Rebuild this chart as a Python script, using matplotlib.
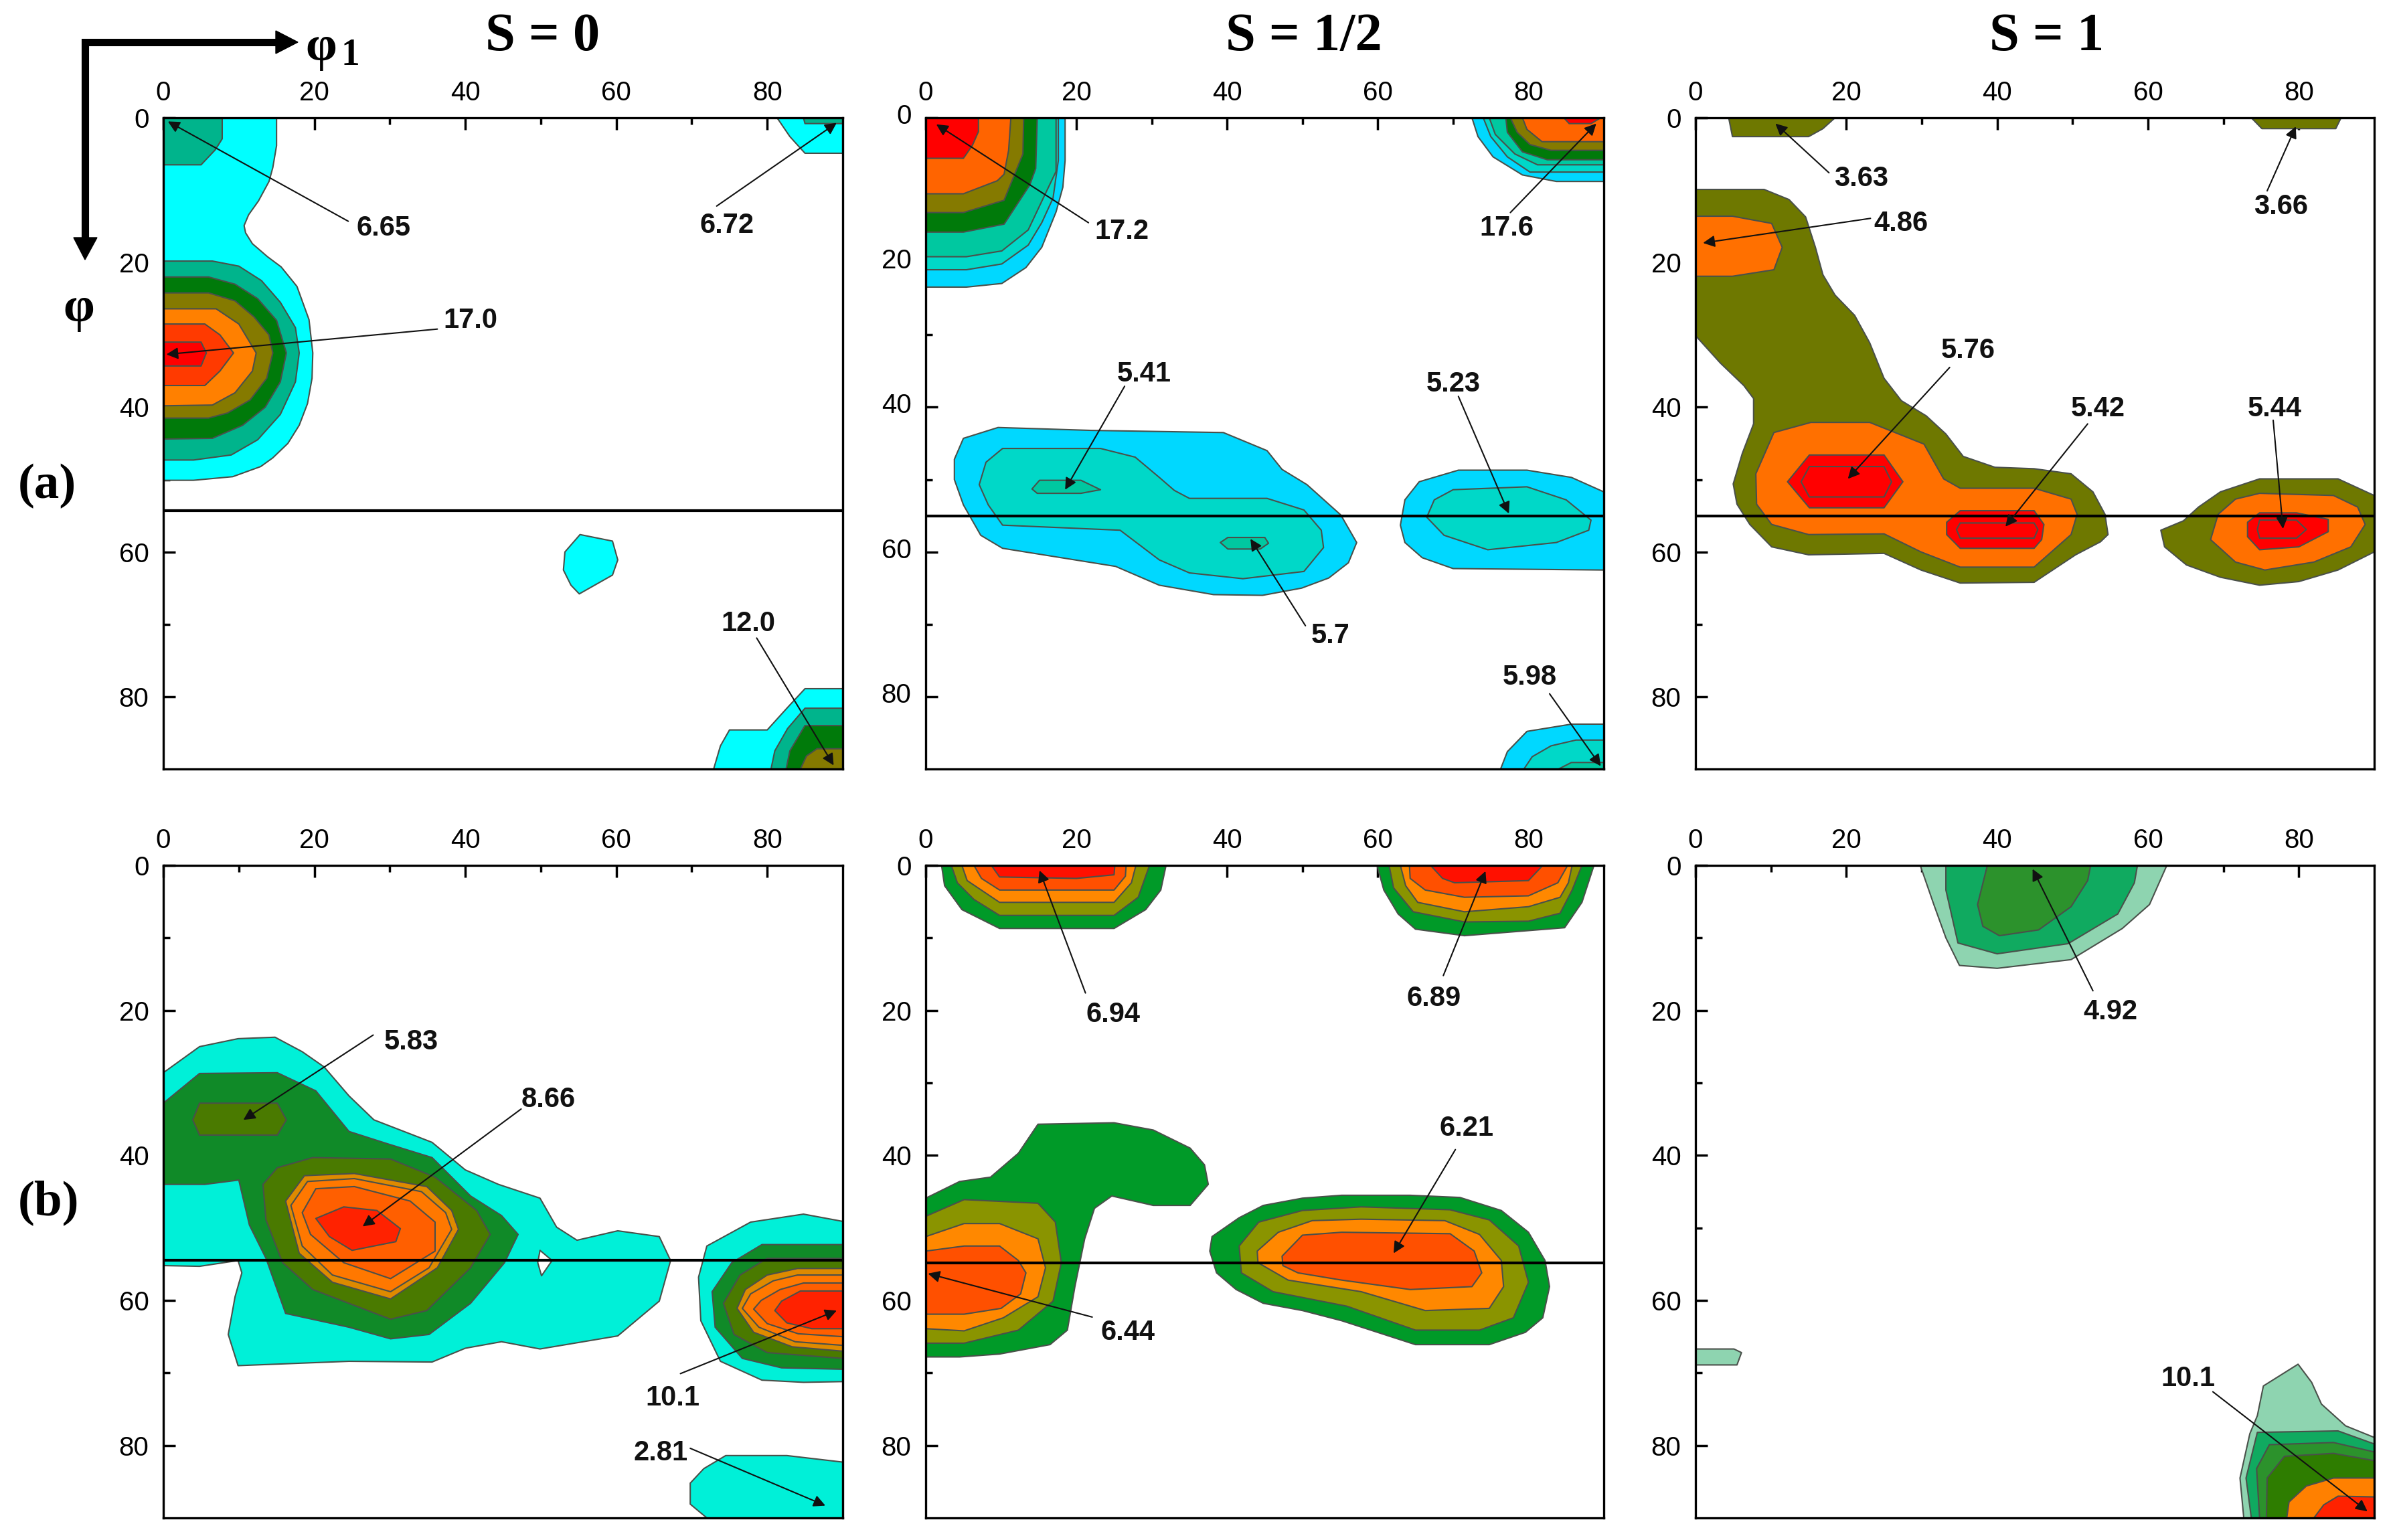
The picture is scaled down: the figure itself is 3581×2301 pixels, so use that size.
import matplotlib
matplotlib.use("Agg")
import matplotlib.pyplot as plt
from matplotlib.transforms import ScaledTranslation

W, H = 3581, 2301

# shared colours
CYAN = "#00ffff"; TEAL = "#00b48c"; DKGREEN = "#007a0a"; OLIVE = "#857a00"
ORANGE = "#ff8000"; REDOR = "#ff3a00"; RED = "#ff0000"
SKY = "#00d8ff"; TURQ = "#00d8c8"; TEAL2 = "#00c8a0"; OLIVE3 = "#6e7800"; ORANGE3 = "#ff7000"
B_TURQ = "#00f0d8"; B_GREEN = "#108a28"; B_OLIVE = "#4a7a00"; B_AMBER = "#de8a00"; B_ORANGE = "#ff7800"
B_RO = "#ff5f00"; B_RED = "#ff2200"
C_GREEN = "#009a28"; C_OLIVE = "#8a9400"; C_ORANGE = "#ff8800"; C_RO = "#ff5000"; C_RED = "#ff1000"
D_PALE = "#8ed4b0"; D_GREEN = "#10aa60"; D_MID = "#2c922c"; D_DARK = "#2e7d00"

# ---- panel (a) S = 0, contour outlines read as (phi1, phi) ----
a1_cyan = [(0,0),(15,0),(15,3.85),(14.5,6.9),(14,8.8),(12.6,11.5),(11.3,13.4),(10.7,14.9),(10.9,15.9),(11.8,17.4),(13.8,19.2),(15.6,20.6),(17.7,23.3),(19.3,27.9),(19.8,32.5),(19.7,36),(19.1,39.5),(18,42.5),(16.5,45),(14.5,47),(12.9,48.2),(9.2,49.6),(4,50.1),(0,50.1)]
a1_corner = [(0,0),(7.8,0),(7.8,2.9),(6.9,4.4),(5,6.5),(0,6.5)]
a1_teal = [(0,19.8),(6.5,19.8),(10,20.5),(13,22.5),(15.5,25.5),(17.5,29),(18,32.5),(17.5,36.5),(15.5,41),(12.5,44.5),(9,46.6),(4,47.3),(0,47.3)]
a1_green = [(0,22),(6,22),(9.5,23),(12.5,25),(15,28),(16.3,32.5),(15.5,36.5),(13.5,40),(10.5,42.5),(6.5,44.3),(0,44.4)]
a1_olive = [(0,24.2),(6,24.2),(9.5,25.3),(12,27.5),(14,30),(14.5,32.5),(13.7,36),(11.5,39),(8.5,40.8),(6,41.5),(0,41.5)]
a1_orange = [(0,26.4),(7,26.4),(10,28.5),(12.3,32.5),(11.8,35),(9.5,38),(6.5,39.7),(0,39.8)]
a1_redor = [(0,28.5),(5.5,28.5),(7.5,30),(9.3,32.5),(7.5,35),(5.5,37),(0,37)]
a1_red = [(0,31),(5,31),(5.7,32.5),(5,34.3),(0,34.3)]
a1_tr_cyan = [(81.3,0),(83,2.6),(85,4.9),(90,4.9),(90,0)]
a1_tr_teal = [(84.8,0),(85,0.8),(90,0.8),(90,0)]
a1_blob = [(55.2,57.6),(59.5,58.5),(60.2,61.1),(59.5,63.2),(55.1,65.8),(54,64.6),(53,62.5),(53.2,60)]
a1_br_cyan = [(72.9,90),(73.8,86.8),(75,84.6),(80,84.6),(82.6,81.6),(85,78.9),(90,78.9),(90,90)]
a1_br_teal = [(80.5,90),(81,87.5),(82.7,84.4),(85,81.6),(90,81.6),(90,90)]
a1_br_green = [(82.5,90),(83,87.5),(85,84),(90,84),(90,90)]
a1_br_olive = [(84.4,90),(85.2,88.2),(86.6,87.2),(90,87.2),(90,90)]
a1_notes = [("6.65",29.2,15.3,24.5,14.3,0.6,0.5),("6.72",74.7,14.9,73.3,12.2,89.2,0.7),
            ("17.0",40.7,28,36.3,29.2,0.4,32.7),("12.0",77.5,69.9,78.6,71.9,88.8,89.5)]

# ---- panel (a) S = 1/2 ----
a2_cyan = [(0,0),(18.5,0),(18.5,5.9),(18.2,9.6),(17.3,13),(15.4,17.9),(13.3,20.7),(10.1,22.9),(5.4,23.4),(0,23.4)]
a2_turq = [(0,0),(17.6,0),(17.6,5.9),(16.9,11.1),(15.4,14.5),(13.6,17.6),(10.1,20.2),(5.4,21),(0,21)]
a2_teal = [(0,0),(17.3,0),(17.3,7.4),(15.6,11.1),(13.6,15.5),(10.1,18.4),(5.4,19.2),(0,19.2)]
a2_green = [(0,0),(14.8,0),(14.6,7),(13.8,9.3),(10.4,14.7),(5,15.8),(0,15.8)]
a2_olive = [(0,0),(13,0),(12.9,5),(10.4,11.4),(5,13.1),(0,13.1)]
a2_orange = [(0,0),(11.3,0),(11,4.5),(10.4,7.8),(9.5,8.7),(5,10.5),(0,10.5)]
a2_red = [(0,0),(7,0),(7,1.9),(6.2,3.8),(5,5.6),(0,5.6)]
a2_tr_cyan = [(72.5,0),(73.3,2.6),(75.3,5.4),(79.2,7.9),(83.7,8.8),(90,8.8),(90,0)]
a2_tr_turq = [(74,0),(75,2.6),(77.2,5.4),(80.2,7.5),(90,7.5),(90,0)]
a2_tr_teal = [(74.8,0),(75.6,2.3),(78.2,5),(81.2,6.5),(90,6.5),(90,0)]
a2_tr_green = [(77,0),(77.2,2),(79.2,4.7),(82.5,5.8),(90,5.8),(90,0)]
a2_tr_olive = [(77.6,0),(78.5,2),(80.2,3.7),(83,4.5),(90,4.5),(90,0)]
a2_tr_orange = [(79.2,0),(79.8,1.6),(81.8,3.3),(90,3.3),(90,0)]
a2_tr_red = [(84.7,0),(85.4,0.8),(88.3,0.8),(89.6,0)]
a2_mid_sky = [(5,44.3),(9.6,42.8),(21.9,43.2),(39.5,43.5),(45.3,46),(47.3,48.6),(50.6,50.7),(55.1,54.9),(57.2,58.7),(56.1,61.5),(53.5,63.6),(49.9,65),(44.7,66),(38.2,65.9),(31,64.6),(25.2,62),(10.2,59.5),(7.3,57.7),(5,53.5),(3.8,50),(3.8,47.2)]
a2_mid_turq = [(10.2,45.7),(23.2,45.7),(27.8,46.9),(31,49.7),(33,51.5),(35,52.6),(45.3,52.6),(50.2,54.2),(52.5,57),(52.8,59.4),(50.2,62.7),(42.1,63.7),(35,62.9),(31,61.1),(25.8,57),(10.2,56.3),(8.3,53.5),(7.1,50.7),(8,47.6)]
a2_spot1 = [(15.1,50.1),(20.6,50.1),(23.2,51.4),(20.6,51.9),(14.8,51.9),(14.1,51.3)]
a2_spot2 = [(40.1,58),(45,58),(45.5,58.8),(44.4,59.6),(40.1,59.6),(39.1,58.7)]
a2_right_sky = [(90,51.7),(85.7,49.7),(79.8,48.7),(70.7,48.7),(65.5,50.3),(63.6,52.8),(63,56.3),(63.6,58.7),(65.9,60.8),(70,62.3),(90,62.5)]
a2_right_turq = [(70,51.4),(79.8,51),(85,52.8),(88.3,55.6),(88,57),(83.7,58.7),(74.6,59.7),(68.8,57.7),(66.5,55.2),(67.5,52.8)]
a2_br_sky = [(76.3,90),(77.2,87.6),(79.8,84.8),(85.7,83.8),(90,83.8),(90,90)]
a2_br_turq = [(79.4,90),(80.5,88.3),(83,86.8),(86.3,86),(90,86),(90,90)]
a2_br_teal = [(84,90),(85.7,89.1),(90,89.1),(90,90)]
a2_notes = [("17.2",26,15.7,21.6,14.5,1.4,0.9),("17.6",77.1,15.3,77.6,13.1,89,0.8),("5.41",29,35.4,26.4,37.1,18.5,51.4),
            ("5.23",70,36.8,70.7,38.5,77.4,54.7),("5.7",53.7,71.6,50.4,70.2,43.1,58.2),("5.98",80.2,77.3,82.8,79.6,89.6,89.6)]

# ---- panel (a) S = 1 ----
a3_top1 = [(4.4,0),(4.9,2.6),(15,2.6),(16.9,1.5),(18.5,0)]
a3_top2 = [(73.7,0),(75.1,1.5),(84.9,1.5),(85.6,0)]
a3_main = [(0,9.9),(9.1,9.9),(12.4,11.3),(14.6,13.7),(15.9,17.9),(16.9,21.7),(18.5,24.5),(21.1,27.3),(23.1,31.1),(25,36),(27.3,39.1),(30.6,41.2),(33.2,43.7),(35.5,46.8),(39.7,48.3),(44.9,48.5),(49.8,49.2),(52.7,51.7),(54.3,54.8),(54.7,57.6),(53.7,58.6),(50.4,60.4),(44.9,64.2),(35.1,64.3),(29.9,62.5),(25,60.2),(15,60.4),(10.1,59.3),(7.2,56.2),(5.5,53.4),(5,50.6),(6.2,46.4),(7.7,42.3),(7.7,38.8),(6.4,37),(3.3,33.9),(0,30.1)]
a3_or1 = [(0,13.6),(4.9,13.6),(10.1,14.6),(11.5,17.9),(10.4,21),(4.9,21.9),(0,21.9)]
a3_or2 = [(10.4,43.5),(15.3,42.1),(23.1,42.1),(30.3,45.1),(32.9,49.9),(35.1,51.2),(44.9,51.2),(49.8,52.7),(50.6,54.8),(49.8,57.6),(44.9,62.1),(35.1,62.1),(29.9,60),(25,57.5),(15,57.6),(10.1,56.2),(8.1,53.4),(8,49.2)]
a3_red1 = [(15.1,46.6),(25,46.6),(27.5,50.3),(25,53.9),(15.1,53.9),(12.2,50.3)]
a3_in1 = [(15.1,48.2),(25,48.2),(26,50.3),(25,52.4),(15.1,52.4),(14,50.3)]
a3_red2 = [(35.1,54.3),(44.9,54.3),(46.2,56.2),(45.9,58.3),(44.9,59.5),(35.1,59.5),(33.3,57.6),(33.3,55.9)]
a3_in2 = [(35.1,56),(44.9,56),(45.4,56.9),(44.9,58.1),(35.1,58.1),(34.6,56.9)]
a3_right = [(90,52.2),(85.2,49.9),(74.8,49.9),(69.6,51.7),(66.7,53.8),(64.7,55.7),(61.7,57),(62.2,59.3),(65.1,61.8),(69.6,63.5),(74.8,64.6),(80,64.1),(85.2,62.5),(90,60)]
a3_right_or = [(74.8,51.9),(84.6,52.2),(87.8,53.8),(88.8,56.2),(86.9,59.3),(82,61.4),(75.5,62.5),(71.6,61.4),(68.3,58.3),(69.3,54.8),(71.6,52.7)]
a3_right_red = [(74.8,54.6),(79.7,54.6),(83.9,55.5),(83.9,57.2),(80,59.3),(74.8,59.7),(73.2,57.9),(73.2,55.9)]
a3_right_in = [(74.8,55.6),(79.7,55.6),(81,56.9),(79.7,58.1),(74.8,58.1),(74.5,56.9)]
a3_notes = [("3.63",22,8.4,17.7,7.6,10.6,0.8),("3.66",77.6,12.3,75.8,10.1,79.6,1.2),("4.86",27.2,14.6,23.2,13.9,1,17.3),
            ("5.76",36.1,32.2,33.7,34.5,20.2,49.9),("5.42",53.4,40.2,52,42.3,41.1,56.5),("5.44",76.8,40.2,76.6,41.8,77.9,56.8)]

# ---- panel (b) S = 0 ----
b1_outer = [(0,28.6),(4.8,25),(9.9,23.9),(14.8,23.7),(18.4,25.7),(21.3,27.8),(24.6,31.8),(27.9,35.1),(35.6,38.2),(40,42),(44.4,44),(49.9,45.9),(52.1,49.9),(54.8,51.7),(60.2,50.4),(65.7,51.2),(67.2,54.5),(65.7,60.1),(60.2,64.9),(49.9,66.7),(44.8,65.7),(40,66.6),(35.6,68.5),(24.6,68.4),(9.9,69),(8.6,64.7),(9.5,59.5),(10.4,56.2),(9.9,54.5),(4.8,55.3),(0,55.2)]
b1_hole = [(49.6,54.8),(49.9,53.1),(51.5,54.5),(50.1,56.6)]
b1_green = [(0,32.8),(4.8,28.7),(15.1,28.6),(20.2,31.1),(24.6,36.7),(29.7,38.4),(35.6,40.3),(40.7,45.6),(44.8,48.3),(47,50.9),(45.2,54.8),(40.7,60.4),(35.2,64.7),(30.1,65.3),(24.6,63.7),(16.2,61.8),(13.6,54.2),(11.4,49.6),(10,43.4),(5.5,44),(0,44)]
b1_spot = [(4.8,32.8),(15.1,32.8),(16.3,35.1),(15.1,37.2),(4.8,37.2),(3.9,35.1)]
b1_olive = [(13.2,44),(15.1,41.7),(19.8,40.3),(30.1,40.5),(36,43),(41.5,47.6),(43.3,50.9),(40.7,55.5),(34.9,61.4),(30.1,62.6),(19.8,58.5),(15.8,54.8),(13.6,48.9)]
b1_amber = [(16.2,46.3),(18.7,42.8),(25.3,42.5),(34.9,44.3),(38.2,47.6),(39.1,50.2),(36.3,55.5),(30.1,59.8),(22.4,57.5),(18,53.5)]
b1_orange = [(16.9,46.9),(19.1,43.6),(25.3,43.2),(34.2,45),(37.4,47.9),(38.2,50.2),(35.2,55.5),(30.1,58.8),(22.4,56.5),(18.4,52.5)]
b1_redor = [(18.4,47.9),(20.2,44.6),(25.3,44.3),(32.7,46.3),(36,49.2),(36,53.2),(30.1,57),(23.9,54.8),(19.5,50.9)]
b1_red = [(20.2,48.7),(23.9,47.1),(28.3,47.6),(31.4,50.1),(30.8,51.9),(25,53.1),(22,51.2)]
b1_r_outer = [(90,49.1),(84.8,48.1),(77.8,49.2),(72,52.5),(70.9,56.8),(71.2,62.8),(73.8,68.4),(79.3,71),(84.8,71.3),(90,71.2)]
b1_r_green = [(90,52.3),(79.3,52.3),(75.3,54.8),(72.7,58.8),(73.1,63.7),(76.7,68),(81.9,69.3),(90,69.5)]
b1_r_olive = [(90,54.2),(80,54.2),(76.4,56.5),(74.2,60.4),(75.6,64.7),(80,67.2),(90,68)]
b1_r_amber = [(90,55.6),(84,55.6),(80,56.5),(77.1,58.5),(76,61.1),(78.2,64.4),(83.3,66.4),(90,67)]
b1_r_orange = [(90,56.5),(84,56.5),(80.8,57.3),(77.8,59.1),(76.7,61.1),(78.9,63.7),(83.7,65.7),(90,66.2)]
b1_r_redor = [(90,57.6),(84.8,57.6),(81.7,58.5),(79.2,60),(78.2,61.2),(80,63.2),(84.1,64.6),(90,65)]
b1_r_red = [(90,58.7),(84.4,58.7),(81.9,60.1),(81,61.4),(82.6,63.1),(85.9,63.9),(90,63.9)]
b1_bottom = [(90,82.3),(82.6,81.4),(74.5,81.4),(71.6,83.2),(69.8,85.2),(69.8,88.1),(72,90),(90,90)]
b1_notes = [("5.83",32.8,24.4,27.8,23.4,10.6,35.1),("8.66",51,32.3,47.4,33.6,26.4,49.8),
            ("10.1",67.5,73.5,68.5,70.1,89.2,61.4),("2.81",65.9,81,69.8,80.4,87.7,88.3)]

# ---- panel (b) S = 1/2 ----
b2_tl_green = [(2.1,0),(2.5,2.8),(4.8,6.1),(9.8,8.7),(25,8.7),(29.2,6.1),(31.2,3.4),(31.9,0)]
b2_tl_olive = [(3.4,0),(4.2,2.4),(6.4,4.7),(9.8,6.9),(25,6.9),(28.2,4.4),(29.7,0)]
b2_tl_orange = [(4.8,0),(5.5,2.1),(9.8,5.1),(25,5.1),(27.3,2.4),(27.9,0)]
b2_tl_redor = [(6.4,0),(7.4,1.8),(9.8,3.4),(25,3.4),(26.5,1.5),(26.6,0)]
b2_tl_red = [(8.7,0),(9.8,1.6),(20,1.8),(25,1.3),(25.1,0)]
b2_tr_green = [(59.9,0),(60.8,3.4),(62.7,6.7),(65,8.8),(71.5,9.7),(84.8,8.6),(87.1,5.1),(88.7,0)]
b2_tr_olive = [(61.5,0),(62.1,3.1),(64.7,6.4),(71.5,7.8),(80,7.7),(84.2,6.6),(85.8,3.4),(87.1,0)]
b2_tr_orange = [(63,0),(63.7,2.8),(65.3,5.1),(71.5,6.4),(80,5.7),(84.2,4.4),(85.3,2.4),(85.8,0)]
b2_tr_redor = [(64.2,0),(64.3,1.8),(66.3,3.4),(71.5,4.4),(80,4.2),(83.9,2.4),(85.2,0)]
b2_tr_red = [(67,0),(68.6,1.8),(70.2,2.4),(80,2.1),(81.9,0)]
b2_l_green = [(0,45.9),(4.5,43.6),(8.6,43),(12.3,39.7),(14.9,35.7),(25,35.5),(30.2,36.5),(35.1,39),(37,41.3),(37.5,44),(35.1,46.9),(30.2,46.9),(24.7,45.6),(22.4,47.3),(21.1,51.5),(19.8,58.1),(18.8,64.1),(16.5,66.1),(9.8,67.4),(4.5,67.8),(0,67.8)]
b2_l_olive = [(0,48.4),(5.1,46.1),(14.9,46.6),(17.2,49.2),(18,54.8),(16.9,60.1),(12.3,64.1),(5.1,65.9),(0,65.9)]
b2_l_orange = [(0,51.2),(5.1,49.4),(9.8,49.4),(14.9,51.5),(15.9,55.5),(14.9,59.5),(10.3,62.4),(5.1,64.2),(0,63.9)]
b2_l_redor = [(0,53.2),(5.1,52.5),(9.8,52.5),(12.3,54.5),(13.3,56.2),(12.6,59.1),(10,61.1),(5.1,61.9),(0,61.9)]
b2_r_green = [(38,51.2),(41.6,48.6),(44.8,46.9),(50,45.9),(55.2,45.5),(64.3,45.5),(70.9,45.8),(76.4,47.6),(80,50.6),(82.2,54.5),(82.8,58.1),(81.9,62.4),(79.6,64.4),(74.8,66.1),(65,66.1),(55.2,62.8),(50,61.4),(44.8,60.4),(41.2,58.5),(38.6,56.2),(37.7,53.2)]
b2_r_olive = [(41.6,52.5),(44.2,49.2),(50,47.6),(57.8,47.1),(69.6,47.5),(74.8,48.9),(78.7,52.5),(80,57.5),(78,62.4),(73.5,64.1),(65,64.1),(55.9,60.8),(46.1,58.8),(41.9,56.2)]
b2_r_orange = [(44,53.2),(46.8,50.6),(51.3,49),(57.8,48.8),(68.9,49),(73.5,50.9),(76.4,54.5),(76.7,58.1),(74.8,61.1),(66.3,61.4),(57.8,58.8),(48.1,57.2),(44.1,54.8)]
b2_r_redor = [(47.3,53.9),(50,51),(55.2,50.6),(69.6,50.8),(72.8,53.2),(73.8,56.2),(72.5,58.1),(64.3,58.5),(55.2,57.2),(49.4,56.2),(47.4,55.2)]
b2_notes = [("6.94",24.9,20.6,21.2,17.6,15.1,0.7),("6.89",67.4,18.4,68.7,15.2,74.3,0.8),
            ("6.21",71.8,36.3,70.3,39.2,62.1,53.5),("6.44",26.8,64.4,22.1,62.3,0.3,56.3)]

# ---- panel (b) S = 1 ----
b3_pale = [(29.8,0),(31.6,5.4),(33.2,10),(35,13.8),(40,14.2),(49.8,13),(56.6,8.7),(60.2,5.4),(62.5,0)]
b3_green = [(33.2,0),(33.2,3.4),(34.8,10.7),(40,12.2),(49.4,10.8),(56,6.7),(58.2,2.4),(58.6,0)]
b3_mid = [(38.7,0),(37.4,5.4),(38.1,8.4),(40.3,9.7),(45.5,8.9),(49.8,5.7),(52,2.1),(52.4,0)]
b3_small = [(0,66.7),(5.1,66.7),(6.1,67.2),(5.5,68.9),(0,68.9)]
b3_br_pale = [(75.3,71.8),(79.9,68.8),(81.7,71.3),(83,74.3),(86.2,77.3),(90,78.9),(90,90),(72.7,90),(72.2,84.5),(73.5,78.4),(74.5,75.9)]
b3_br_green = [(74.5,78.2),(85.2,78),(90,79.8),(90,90),(73.7,90),(73,84.5)]
b3_br_mid = [(76.1,79.9),(84.6,79.6),(90,80.9),(90,90),(74.8,90),(74.4,83.2)]
b3_br_dark = [(78.1,81.5),(84.6,81.1),(90,82.1),(90,90),(75.7,90),(75.8,84.5)]
b3_br_orange = [(78.4,90),(78.7,87.8),(81,85.6),(84.6,84.5),(90,84.5),(90,90)]
b3_br_red = [(82,90),(83.3,88.2),(85.2,87),(90,87.1),(90,90)]
b3_notes = [("4.92",55,20.2,52.7,17.3,44.7,0.5),("10.1",65.3,70.8,68.6,72.6,89.1,89.1)]

ticks_major = [0, 20, 40, 60, 80]
ticks_minor = [10, 30, 50, 70]

# left, top, right, bottom (pixels), contours, notes, horizontal line, y label lift (px)
panels = [
    ((244, 176, 1259, 1149), [(a1_cyan, CYAN), (a1_corner, TEAL), (a1_teal, TEAL), (a1_green, DKGREEN), (a1_olive, OLIVE),
        (a1_orange, ORANGE), (a1_redor, REDOR), (a1_red, RED), (a1_tr_cyan, CYAN), (a1_tr_teal, TEAL), (a1_blob, CYAN),
        (a1_br_cyan, CYAN), (a1_br_teal, TEAL), (a1_br_green, DKGREEN), (a1_br_olive, OLIVE)], a1_notes, 54.3, 0),
    ((1383, 176, 2396, 1149), [(a2_cyan, SKY), (a2_turq, TURQ), (a2_teal, TEAL2), (a2_green, DKGREEN), (a2_olive, OLIVE),
        (a2_orange, "#ff6400"), (a2_red, RED), (a2_tr_cyan, SKY), (a2_tr_turq, TURQ), (a2_tr_teal, TEAL2), (a2_tr_green, DKGREEN),
        (a2_tr_olive, OLIVE), (a2_tr_orange, "#ff6400"), (a2_tr_red, RED), (a2_mid_sky, SKY), (a2_mid_turq, TURQ), (a2_spot1, TEAL2),
        (a2_spot2, TEAL2), (a2_right_sky, SKY), (a2_right_turq, TURQ), (a2_br_sky, SKY), (a2_br_turq, TURQ), (a2_br_teal, TEAL2)], a2_notes, 55, 6),
    ((2533, 176, 3547, 1149), [(a3_top1, OLIVE3), (a3_top2, OLIVE3), (a3_main, OLIVE3), (a3_or1, ORANGE3), (a3_or2, ORANGE3),
        (a3_red1, RED), (a3_in1, RED), (a3_red2, RED), (a3_in2, RED), (a3_right, OLIVE3), (a3_right_or, ORANGE3),
        (a3_right_red, RED), (a3_right_in, RED)], a3_notes, 55, 0),
    ((244, 1293, 1259, 2268), [(b1_outer, B_TURQ), (b1_hole, "white"), (b1_green, B_GREEN), (b1_spot, B_OLIVE), (b1_olive, B_OLIVE),
        (b1_amber, B_AMBER), (b1_orange, B_ORANGE), (b1_redor, B_RO), (b1_red, B_RED), (b1_r_outer, B_TURQ),
        (b1_r_green, B_GREEN), (b1_r_olive, B_OLIVE), (b1_r_amber, B_AMBER), (b1_r_orange, B_ORANGE),
        (b1_r_redor, B_RO), (b1_r_red, B_RED), (b1_bottom, B_TURQ)], b1_notes, 54.5, 0),
    ((1383, 1293, 2396, 2268), [(b2_tl_green, C_GREEN), (b2_tl_olive, C_OLIVE), (b2_tl_orange, C_ORANGE), (b2_tl_redor, C_RO),
        (b2_tl_red, C_RED), (b2_tr_green, C_GREEN), (b2_tr_olive, C_OLIVE), (b2_tr_orange, C_ORANGE), (b2_tr_redor, C_RO),
        (b2_tr_red, C_RED), (b2_l_green, C_GREEN), (b2_l_olive, C_OLIVE), (b2_l_orange, C_ORANGE), (b2_l_redor, C_RO),
        (b2_r_green, C_GREEN), (b2_r_olive, C_OLIVE), (b2_r_orange, C_ORANGE), (b2_r_redor, C_RO)], b2_notes, 54.8, 0),
    ((2533, 1293, 3547, 2268), [(b3_pale, D_PALE), (b3_green, D_GREEN), (b3_mid, D_MID), (b3_small, D_PALE), (b3_br_pale, D_PALE),
        (b3_br_green, D_GREEN), (b3_br_mid, D_MID), (b3_br_dark, D_DARK), (b3_br_orange, ORANGE), (b3_br_red, B_RED)], b3_notes, None, 0),
]

plt.rcParams['font.family'] = ['Liberation Sans', 'DejaVu Sans']
fig = plt.figure(figsize=(W/100, H/100), dpi=100, facecolor="white")


def px_axes(left, top, right, bottom):
    return fig.add_axes([left/W, 1-bottom/H, (right-left)/W, (bottom-top)/H])


for rect, shapes, notes, hline, lift in panels:
    ax = px_axes(*rect)
    for shape, colour in shapes:
        xs = [p[0] for p in shape]
        ys = [p[1] for p in shape]
        ax.fill(xs, ys, facecolor=colour, edgecolor="#4a504a", linewidth=1.5, joinstyle="round", zorder=2)
    ax.set_xlim(0, 90)
    ax.set_ylim(90, 0)
    if hline is not None:
        ax.plot([0, 90], [hline, hline], color="black", lw=3, zorder=3)
    ax.xaxis.tick_top()
    ax.set_xticks(ticks_major)
    ax.set_yticks(ticks_major)
    ax.set_xticks(ticks_minor, minor=True)
    ax.set_yticks(ticks_minor, minor=True)
    ax.tick_params(which="major", direction="in", length=13, width=2.5, labelsize=29, zorder=5)
    ax.tick_params(which="minor", direction="in", length=7, width=2.5, zorder=5)
    ax.tick_params(axis="x", which="major", pad=13)
    ax.tick_params(axis="y", which="major", pad=15.5)
    if lift:
        # this panel's y labels sit slightly above their ticks
        for lab in ax.get_yticklabels():
            lab.set_transform(lab.get_transform() + ScaledTranslation(0, lift/100, fig.dpi_scale_trans))
    for spine in ax.spines.values():
        spine.set_linewidth(2.4)
        spine.set_zorder(6)
    for label, tx, ty, sx, sy, hx, hy in notes:
        ax.annotate("", xy=(hx, hy), xytext=(sx, sy), annotation_clip=False, zorder=7,
                    arrowprops=dict(arrowstyle="-|>", color="#111111", lw=1.5, mutation_scale=26, shrinkA=0, shrinkB=0))
        ax.text(tx, ty, label, ha="center", va="center", fontsize=30, fontweight="bold", color="#111111", zorder=8)

# titles and the big axis arrows go on top in figure pixels
serif = ['Liberation Serif', 'DejaVu Serif']
titles = ["S = 0", "S = 1/2", "S = 1"]
title_x = [811, 1948, 3058]
for t, tx in zip(titles, title_x):
    fig.text(tx/W, 1-56/H, t, ha="center", va="center", fontsize=58, fontweight="bold", family=serif)
fig.text(70/W, 1-726/H, "(a)", ha="center", va="center", fontsize=54, fontweight="bold", family=serif)
fig.text(72/W, 1-1797/H, "(b)", ha="center", va="center", fontsize=54, fontweight="bold", family=serif)
fig.text(456/W, 1-72/H, "φ", ha="left", va="center", fontsize=54, fontweight="bold", family=serif)
fig.text(509/W, 1-83/H, "1", ha="left", va="center", fontsize=40, fontweight="bold", family=serif)
fig.text(118/W, 1-462/H, "φ", ha="center", va="center", fontsize=54, fontweight="bold", family=serif)

overlay = fig.add_axes([0, 0, 1, 1], facecolor="none")
overlay.set_xlim(0, W)
overlay.set_ylim(H, 0)
overlay.axis("off")
overlay.plot([127, 127, 412], [356, 63, 63], color="black", lw=8, solid_joinstyle="miter", solid_capstyle="butt")
overlay.fill([412, 412, 445], [46, 80, 63], color="black")
overlay.fill([110, 145, 127], [355, 355, 388], color="black")

fig.savefig("out.png", dpi=100)
